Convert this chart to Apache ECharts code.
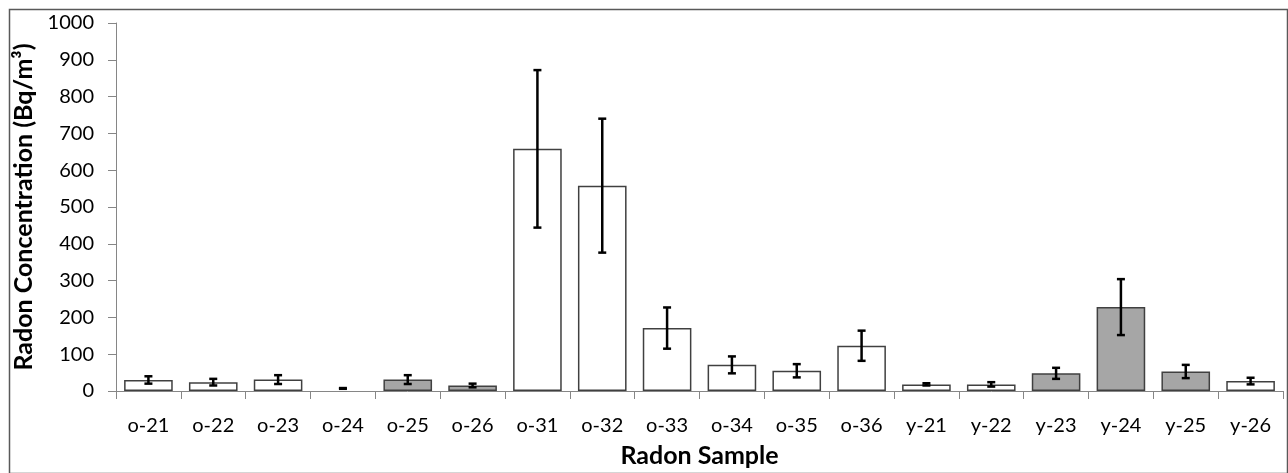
<!DOCTYPE html>
<html>
<head>
<meta charset="utf-8">
<script src="https://cdn.jsdelivr.net/npm/echarts@6/dist/echarts.min.js"></script>
<style>
html,body{margin:0;padding:0;background:#fff;}
#chart{width:1288px;height:473px;}
</style>
</head>
<body>
<div id="chart"></div>
<script>
var categories = ['o-21','o-22','o-23','o-24','o-25','o-26','o-31','o-32','o-33','o-34','o-35','o-36','y-21','y-22','y-23','y-24','y-25','y-26'];
var values =     [30, 24, 31, 7, 31, 15, 658, 558, 171, 71, 55, 123, 18, 18, 48, 228, 53, 27];
var errors =     [10, 9, 12, 1, 12, 5, 214, 182, 56, 23, 18, 41, 3, 6, 15, 76, 18, 9];
var shaded =     [0, 0, 0, 0, 1, 1, 0, 0, 0, 0, 0, 0, 0, 0, 1, 1, 1, 0];
var hidden =     [0, 0, 0, 1, 0, 0, 0, 0, 0, 0, 0, 0, 0, 0, 0, 0, 0, 0];
var yTicks = [0, 1000, 100];

var FONT = 'Lato, "Open Sans", sans-serif';

var barData = values.map(function (v, i) {
  var item = { value: v, itemStyle: {} };
  if (hidden[i]) {
    item.itemStyle = { color: 'rgba(0,0,0,0)', borderWidth: 0 };
  } else {
    item.itemStyle = { color: shaded[i] ? '#a6a6a6' : '#ffffff', borderColor: '#404040', borderWidth: 1.5 };
  }
  return item;
});
var errData = values.map(function (v, i) { return [i, v - errors[i], v + errors[i]]; });

var chart = echarts.init(document.getElementById('chart'), null, { renderer: 'canvas' });
chart.setOption({
  animation: false,
  backgroundColor: '#ffffff',
  grid: { left: 116, right: 5, top: 23, bottom: 73.5, containLabel: false },
  graphic: [{
    type: 'rect', left: 7, top: 7, z: -1,
    shape: { width: 1278, height: 464 },
    style: { fill: 'none', stroke: '#595959', lineWidth: 1.5 }
  }],
  xAxis: {
    type: 'category',
    data: categories,
    name: 'Radon Sample',
    nameLocation: 'middle',
    nameGap: 52,
    nameTextStyle: { fontFamily: FONT, fontWeight: 'bold', fontSize: 25, color: '#000' },
    axisLine: { lineStyle: { color: '#868686', width: 1 } },
    axisTick: { show: true, length: 8, alignWithLabel: false, lineStyle: { color: '#868686' } },
    axisLabel: { fontFamily: FONT, fontSize: 20, color: '#000', margin: 25, interval: 0 },
    splitLine: { show: false }
  },
  yAxis: {
    type: 'value',
    min: yTicks[0], max: yTicks[1], interval: yTicks[2],
    name: 'Radon Concentration (Bq/m³)',
    nameLocation: 'middle',
    nameGap: 78,
    nameRotate: 90,
    nameTextStyle: { fontFamily: FONT, fontWeight: 'bold', fontSize: 25, color: '#000' },
    axisLine: { show: true, lineStyle: { color: '#868686', width: 1 } },
    axisTick: { show: true, length: 8, lineStyle: { color: '#868686' } },
    axisLabel: { fontFamily: FONT, fontSize: 20, color: '#000', margin: 22, formatter: function (v) { return String(v); } },
    splitLine: { show: false }
  },
  series: [{
    type: 'bar',
    data: barData,
    barCategoryGap: '25%',
    z: 2
  }, {
    type: 'custom',
    data: errData,
    z: 5,
    renderItem: function (params, api) {
      var x = api.value(0);
      var lo = api.coord([x, api.value(1)]);
      var hi = api.coord([x, api.value(2)]);
      var w = 4;
      var st = { stroke: '#000', lineWidth: 2.5 };
      return {
        type: 'group',
        children: [
          { type: 'line', shape: { x1: lo[0], y1: lo[1], x2: hi[0], y2: hi[1] }, style: st },
          { type: 'line', shape: { x1: lo[0] - w, y1: lo[1], x2: lo[0] + w, y2: lo[1] }, style: st },
          { type: 'line', shape: { x1: hi[0] - w, y1: hi[1], x2: hi[0] + w, y2: hi[1] }, style: st }
        ]
      };
    }
  }]
});
</script>
</body>
</html>
